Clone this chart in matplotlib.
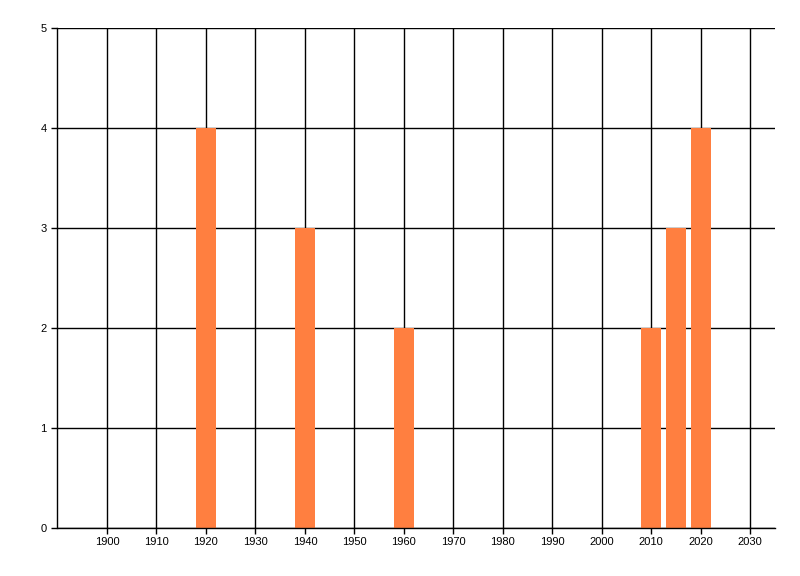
import matplotlib
matplotlib.use("Agg")
import matplotlib.pyplot as plt

years = [1920, 1940, 1960, 2010, 2015, 2020]
counts = [4, 3, 2, 2, 3, 4]
x_ticks = list(range(1900, 2031, 10))
y_ticks = [0, 1, 2, 3, 4, 5]

plt.rcParams['font.family'] = ['Liberation Sans', 'DejaVu Sans']

fig = plt.figure(figsize=(8, 5.76), dpi=100)
ax = fig.add_axes([57.5 / 800, 1 - 527.5 / 576, (775 - 57.5) / 800, 500 / 576])

ax.bar(years, counts, width=4, color='#FF7F40', zorder=3)

ax.set_xlim(1890, 2035)
ax.set_ylim(0, 5)
ax.set_xticks(x_ticks)
ax.set_yticks(y_ticks)

ax.grid(True, color='black', linewidth=1.0, zorder=1)
ax.set_axisbelow(True)
for side in ['top', 'right']:
    ax.spines[side].set_visible(False)
for side in ['left', 'bottom']:
    ax.spines[side].set_linewidth(1.0)
    ax.spines[side].set_zorder(4)

ax.tick_params(axis='both', direction='out', length=4, width=1.0, labelsize=8)
ax.tick_params(axis='y', pad=4)
ax.tick_params(axis='x', pad=2.5)

fig.savefig('out.png', dpi=100)
